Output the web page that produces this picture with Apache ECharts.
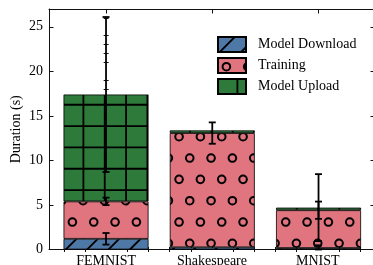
<!DOCTYPE html>
<html>
<head>
<meta charset="utf-8">
<script src="https://cdn.jsdelivr.net/npm/echarts@6/dist/echarts.min.js"></script>
<style>
  html, body { margin: 0; padding: 0; background: #fff; }
  #chart { width: 373px; height: 265px; }
</style>
</head>
<body>
<div id="chart"></div>
<script>
// data
const categories = ['FEMNIST', 'Shakespeare', 'MNIST'];
const downloadMean = [1.2, 0.25, 0.17];
const trainingMean = [4.2, 12.82, 4.24];
const uploadMean = [12.0, 0.3, 0.29];
const downloadErr = [0.65, 0, 0.3];
const trainingErr = [0.42, 1.2, 0.97];
const uploadErr = [8.7, 0, 3.76];
const yMajorTicks = [0, 5, 10, 15, 20, 25];
const yMinorTicks = [1, 2, 3, 4, 6, 7, 8, 9, 11, 12, 13, 14, 16, 17, 18, 19, 21, 22, 23, 24, 26];
const xMinorTicks = [-0.4, -0.2, 0.2, 0.4, 0.6, 0.8, 1.2, 1.4, 1.6, 1.8, 2.2, 2.4];

const FONT = 'Liberation Serif';
const STEP = 128 / 6;

// hatch tiles (128px, same as the figure's hatch unit)
function makeTile(bg, draw) {
  const c = document.createElement('canvas');
  c.width = 128; c.height = 128;
  const ctx = c.getContext('2d');
  ctx.fillStyle = bg;
  ctx.fillRect(0, 0, 128, 128);
  ctx.strokeStyle = '#000';
  ctx.lineWidth = 1.8;
  draw(ctx);
  return { image: c, repeat: 'repeat' };
}

const diagFill = makeTile('#4e79a7', function (ctx) {
  ctx.beginPath();
  for (let k = -1; k <= 13; k++) {
    const c = 16.7 + k * STEP;
    ctx.moveTo(c, 0);
    ctx.lineTo(c - 128, 128);
  }
  ctx.stroke();
});

const circleFill = makeTile('#e0747f', function (ctx) {
  ctx.lineWidth = 2;
  for (let r = 0; r < 6; r++) {
    const y = 8.7 + r * STEP;
    const x0 = r % 2 === 0 ? 8.4 : 8.4 + STEP / 2;
    for (let i = -1; i <= 6; i++) {
      ctx.beginPath();
      ctx.arc(x0 + i * STEP, y, 3.8, 0, Math.PI * 2);
      ctx.stroke();
    }
  }
});

const gridFill = makeTile('#2e7a3a', function (ctx) {
  ctx.beginPath();
  for (let i = 0; i < 6; i++) {
    const p = 19.4 + i * STEP;
    ctx.moveTo(p, 0); ctx.lineTo(p, 128);
    ctx.moveTo(0, p); ctx.lineTo(128, p);
  }
  ctx.stroke();
});

// error bars sit on top of each stacked segment
const errData = [];
categories.forEach(function (c, i) {
  const d = downloadMean[i];
  const t = d + trainingMean[i];
  const u = t + uploadMean[i];
  [[d, downloadErr[i]], [t, trainingErr[i]], [u, uploadErr[i]]].forEach(function (p) {
    if (p[1] > 0) errData.push([i, Math.max(0, p[0] - p[1]), p[0] + p[1]]);
  });
});

const chart = echarts.init(document.getElementById('chart'), null, { renderer: 'canvas' });

const xBase = { type: 'value', gridIndex: 0, min: -0.54, max: 2.54, splitLine: { show: false } };
const yBase = { type: 'value', gridIndex: 0, min: 0, max: 27, splitLine: { show: false } };
const line = { show: true, onZero: false, lineStyle: { color: '#111', width: 1 } };
const tickStyle = { color: '#111' };

const option = {
  animation: false,
  grid: [
    // frame with ticks (x in data units, categories at 0,1,2)
    { left: 49, right: -2, top: 9, bottom: 15.5, outerBoundsMode: 'none', containLabel: false },
    // bars: category centres land on 0,1,2 of the frame
    { left: 52.9, right: 1.35, top: 9, bottom: 15.5, outerBoundsMode: 'none', containLabel: false }
  ],
  xAxis: [
    Object.assign({}, xBase, {
      position: 'bottom', axisLine: line,
      axisTick: { inside: true, length: 4.5, customValues: [0, 1, 2], lineStyle: tickStyle },
      axisLabel: {
        customValues: [0, 1, 2], margin: 5, color: '#000', fontFamily: FONT, fontSize: 14,
        formatter: function (v) { return categories[Math.round(v)]; }
      }
    }),
    Object.assign({}, xBase, {
      position: 'bottom', axisLine: { show: false },
      axisTick: { inside: true, length: 2.5, customValues: xMinorTicks, lineStyle: tickStyle },
      axisLabel: { show: false }
    }),
    Object.assign({}, xBase, {
      position: 'top', axisLine: line,
      axisTick: { inside: true, length: 4.5, customValues: [0, 1, 2], lineStyle: tickStyle },
      axisLabel: { show: false }
    }),
    Object.assign({}, xBase, {
      position: 'top', axisLine: { show: false },
      axisTick: { inside: true, length: 2.5, customValues: xMinorTicks, lineStyle: tickStyle },
      axisLabel: { show: false }
    }),
    { type: 'category', gridIndex: 1, data: categories, show: false }
  ],
  yAxis: [
    Object.assign({}, yBase, {
      position: 'left', axisLine: line,
      axisTick: { inside: true, length: 4.5, customValues: yMajorTicks, lineStyle: tickStyle },
      axisLabel: { customValues: yMajorTicks, margin: 6, color: '#000', fontFamily: FONT, fontSize: 14 },
      name: 'Duration (s)', nameLocation: 'middle', nameGap: 26, nameMoveOverlap: false,
      nameTextStyle: { color: '#000', fontFamily: FONT, fontSize: 14 }
    }),
    Object.assign({}, yBase, {
      position: 'left', axisLine: { show: false },
      axisTick: { inside: true, length: 2.5, customValues: yMinorTicks, lineStyle: tickStyle },
      axisLabel: { show: false }
    }),
    Object.assign({}, yBase, {
      position: 'right', axisLine: line,
      axisTick: { inside: true, length: 4.5, customValues: yMajorTicks, lineStyle: tickStyle },
      axisLabel: { show: false }
    }),
    Object.assign({}, yBase, {
      position: 'right', axisLine: { show: false },
      axisTick: { inside: true, length: 2.5, customValues: yMinorTicks, lineStyle: tickStyle },
      axisLabel: { show: false }
    }),
    { type: 'value', gridIndex: 1, min: 0, max: 27, show: false, splitLine: { show: false } }
  ],
  legend: {
    orient: 'vertical', left: 217, top: 36, padding: 0,
    itemWidth: 28, itemHeight: 15, itemGap: 4, icon: 'rect',
    textStyle: { color: '#000', fontFamily: FONT, fontSize: 14, lineHeight: 16, padding: [0, 0, 0, 7] },
    data: ['Model Download', 'Training', 'Model Upload']
  },
  series: [
    {
      name: 'Model Download', type: 'bar', stack: 'total', barWidth: 85,
      xAxisIndex: 4, yAxisIndex: 4,
      itemStyle: { color: diagFill, borderColor: '#000', borderWidth: 0.8 },
      data: downloadMean
    },
    {
      name: 'Training', type: 'bar', stack: 'total', barWidth: 85,
      xAxisIndex: 4, yAxisIndex: 4,
      itemStyle: { color: circleFill, borderColor: '#000', borderWidth: 0.8 },
      data: trainingMean
    },
    {
      name: 'Model Upload', type: 'bar', stack: 'total', barWidth: 85,
      xAxisIndex: 4, yAxisIndex: 4,
      itemStyle: { color: gridFill, borderColor: '#000', borderWidth: 0.8 },
      data: uploadMean
    },
    {
      type: 'custom', z: 10, silent: true,
      xAxisIndex: 4, yAxisIndex: 4,
      encode: { x: 0, y: [1, 2] },
      renderItem: function (params, api) {
        const lo = api.coord([api.value(0), api.value(1)]);
        const hi = api.coord([api.value(0), api.value(2)]);
        const style = { stroke: '#000', lineWidth: 1.8 };
        return {
          type: 'group',
          children: [
            { type: 'line', shape: { x1: lo[0], y1: lo[1], x2: hi[0], y2: hi[1] }, style: style },
            { type: 'line', shape: { x1: lo[0] - 3.5, y1: lo[1], x2: lo[0] + 3.5, y2: lo[1] }, style: style },
            { type: 'line', shape: { x1: hi[0] - 3.5, y1: hi[1], x2: hi[0] + 3.5, y2: hi[1] }, style: style }
          ]
        };
      },
      data: errData
    }
  ]
};

chart.setOption(option);
</script>
</body>
</html>
